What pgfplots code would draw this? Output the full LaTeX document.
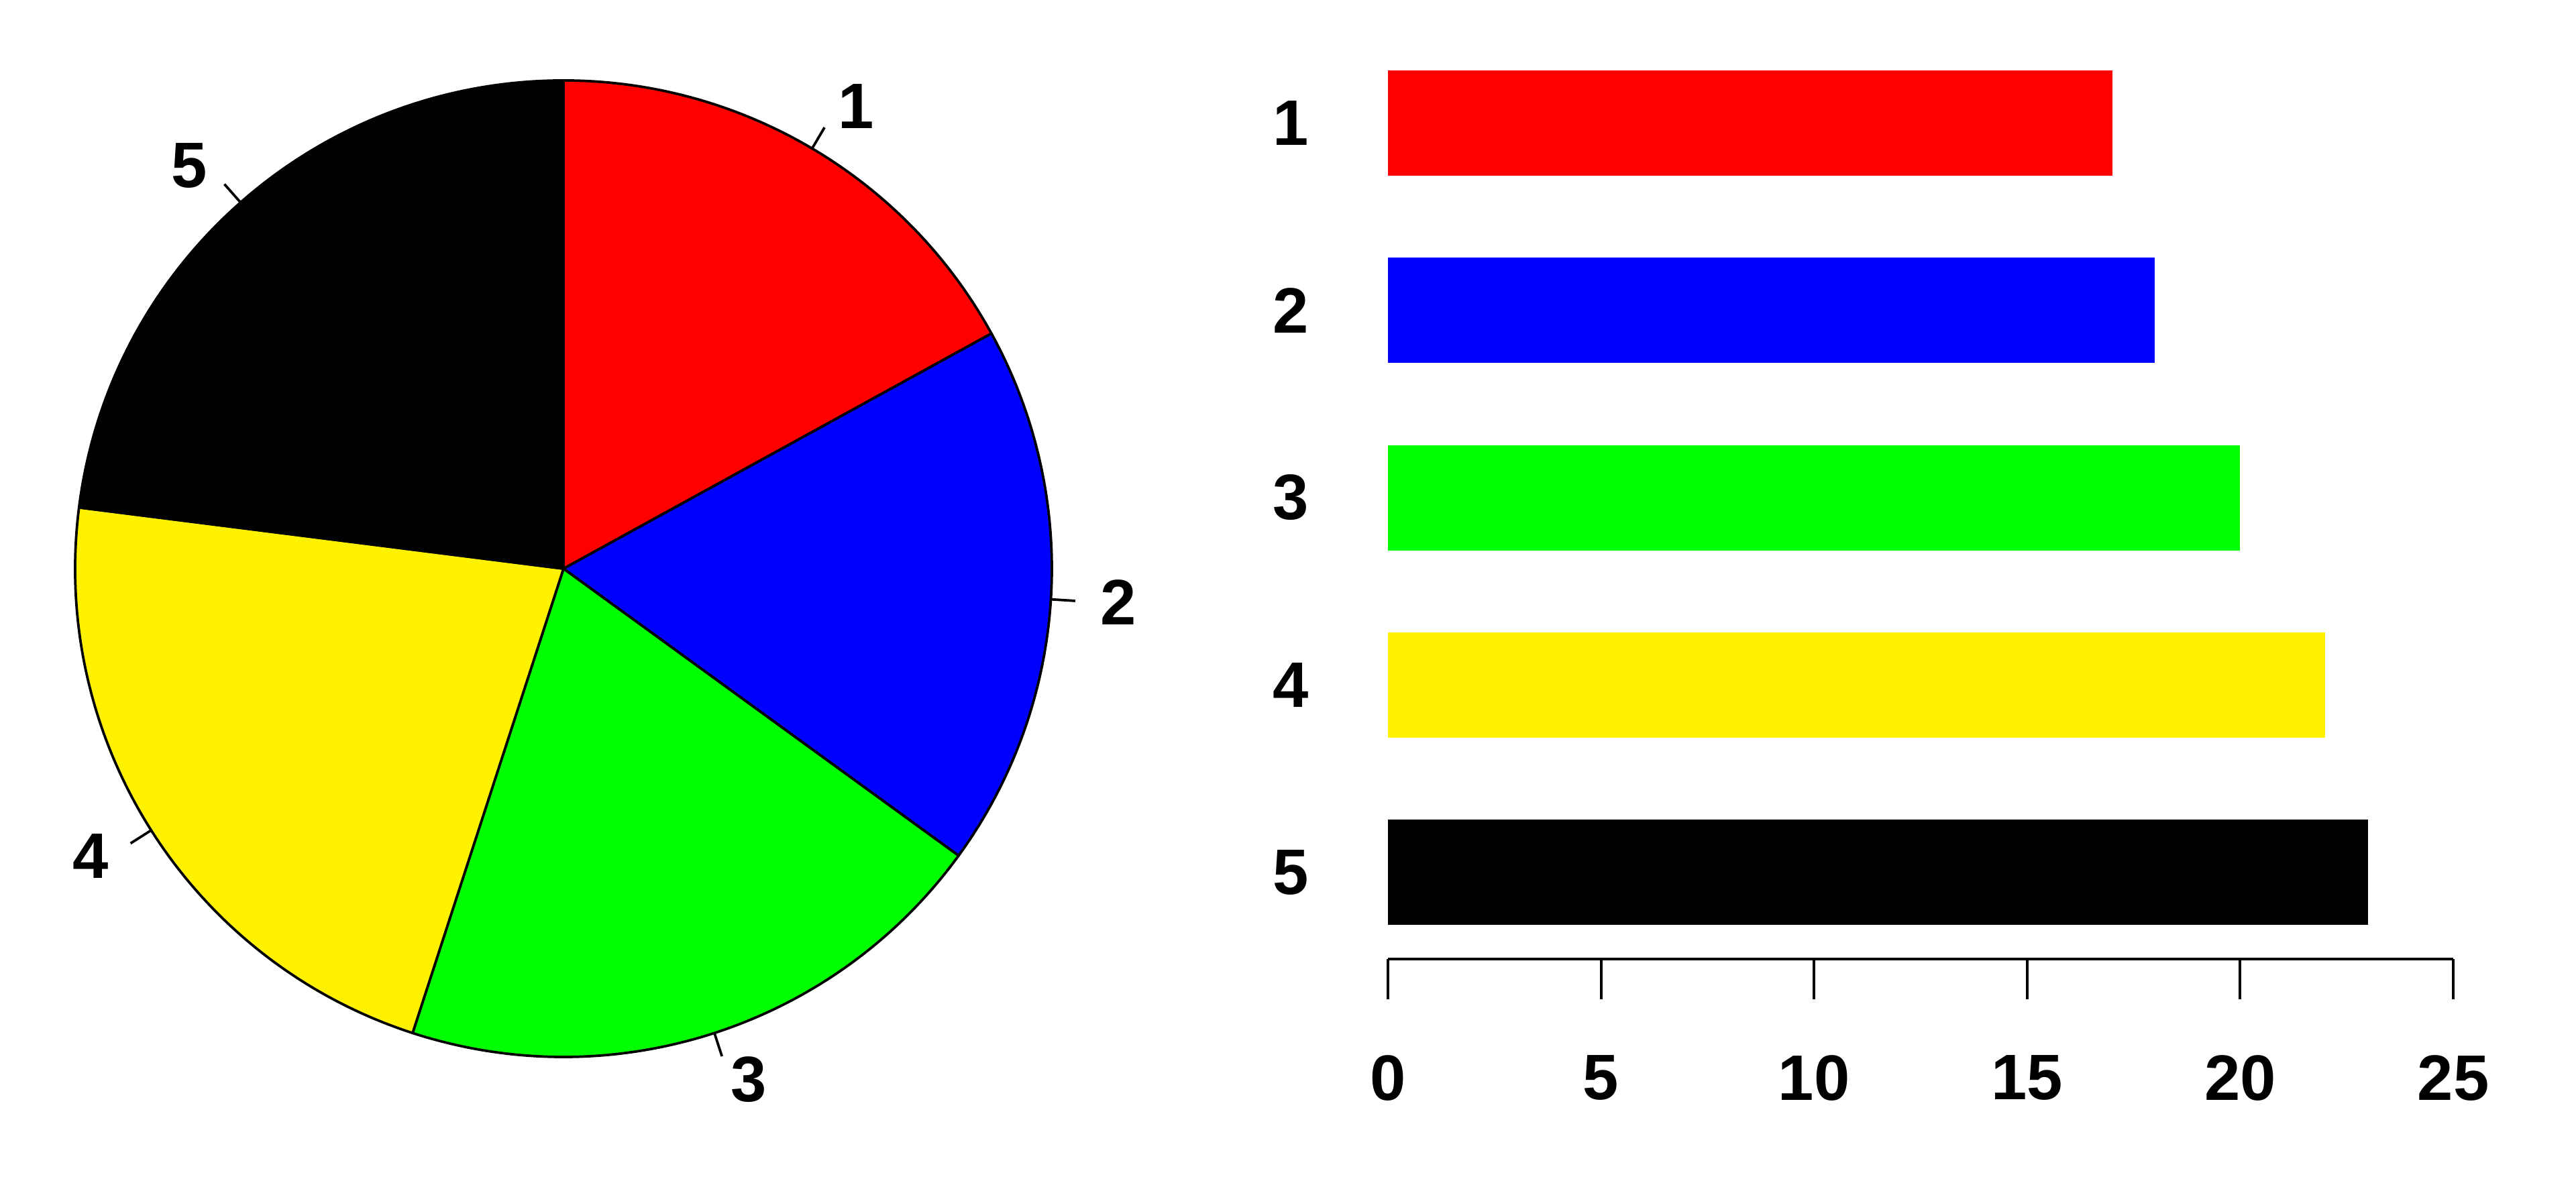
\documentclass[border=0pt]{standalone}
\usepackage{fontspec}
\setmainfont{Liberation Sans}
\usepackage{pgfplots}
\usepackage{pgfplotstable}
\pgfplotsset{compat=1.18}

% values of the five groups (pie shares and bar lengths)
\pgfplotstableread{
label value colour
1 17 red
2 18 blue
3 20 green
4 22 yellow
5 23 black
}\groups

\newcommand\lbl{\fontsize{11.5}{13.8}\selectfont\bfseries}

\begin{document}
\begin{tikzpicture}
\path[use as bounding box] (0,0) rectangle (460.8pt,210.6pt);

% slice angles, clockwise from the top
\def\startang{90}
\pgfplotsforeachungrouped \i in {0,...,4}{%
  \pgfplotstablegetelem{\i}{value}\of\groups
  \pgfmathsetmacro\endang{\startang-3.6*\pgfplotsretval}%
  \pgfmathsetmacro\midang{(\startang+\endang)/2}%
  \expandafter\xdef\csname pieA\i\endcsname{\startang}%
  \expandafter\xdef\csname pieB\i\endcsname{\endang}%
  \expandafter\xdef\csname pieM\i\endcsname{\midang}%
  \pgfmathsetmacro\cosmid{cos(\midang)}%
  \ifdim\cosmid pt>0pt \expandafter\xdef\csname pieN\i\endcsname{west}%
  \else \expandafter\xdef\csname pieN\i\endcsname{east}\fi
  \pgfplotstablegetelem{\i}{label}\of\groups
  \expandafter\xdef\csname pieL\i\endcsname{\pgfplotsretval}%
  \pgfplotstablegetelem{\i}{colour}\of\groups
  \edef\tmp{\noexpand\colorlet{pieC\i}{\pgfplotsretval}}\tmp
  \global\let\startang\endang
}

\begin{axis}[
    at={(100.8pt,108.84pt)}, anchor=center,
    x=87.36pt, y=87.36pt,
    xmin=-1.3, xmax=1.3, ymin=-1.3, ymax=1.3,
    hide axis, clip=false,
]
\pgfplotsinvokeforeach{0,...,4}{
  \filldraw[fill=pieC#1, draw=black, line width=0.45pt, line join=round]
    (axis cs:0,0) -- (axis cs:{cos(\csname pieA#1\endcsname)},{sin(\csname pieA#1\endcsname)})
    arc[start angle=\csname pieA#1\endcsname, end angle=\csname pieB#1\endcsname, radius=87.36pt] -- cycle;
  \draw[line width=0.45pt]
    (axis cs:{cos(\csname pieM#1\endcsname)},{sin(\csname pieM#1\endcsname)}) --
    (axis cs:{1.05*cos(\csname pieM#1\endcsname)},{1.05*sin(\csname pieM#1\endcsname)});
  \node[anchor=\csname pieN#1\endcsname, inner sep=0pt, font=\lbl]
    at (axis cs:{1.1*cos(\csname pieM#1\endcsname)},{1.1*sin(\csname pieM#1\endcsname)})
    {\csname pieL#1\endcsname};
}
\end{axis}

\begin{axis}[
    at={(248.28pt,39pt)}, anchor=south west,
    scale only axis, width=190.56pt, height=166.34pt,
    xmin=0, xmax=25, ymin=0.537, ymax=5.5,
    axis x line*=bottom, axis y line*=left,
    y axis line style={draw=none},
    x axis line style={line width=0.48pt},
    xtick={0,5,10,15,20,25},
    ytick={1,2,3,4,5}, yticklabels={5,4,3,2,1},
    ytick style={draw=none},
    xtick style={line width=0.48pt, black},
    tick align=outside, major tick length=7.2pt,
    /pgf/number format/assume math mode=true,
    tick label style={font=\lbl, inner sep=0pt},
    xticklabel style={yshift=-9.84pt},
    yticklabel style={xshift=-6.84pt},
    xbar, bar width=18.84pt,
]
\addplot[xbar, bar shift=0pt, fill=red, draw=none] coordinates {(17,5)};
\addplot[xbar, bar shift=0pt, fill=blue, draw=none] coordinates {(18,4)};
\addplot[xbar, bar shift=0pt, fill=green, draw=none] coordinates {(20,3)};
\addplot[xbar, bar shift=0pt, fill=yellow, draw=none] coordinates {(22,2)};
\addplot[xbar, bar shift=0pt, fill=black, draw=none] coordinates {(23,1)};
\end{axis}
\end{tikzpicture}
\end{document}
